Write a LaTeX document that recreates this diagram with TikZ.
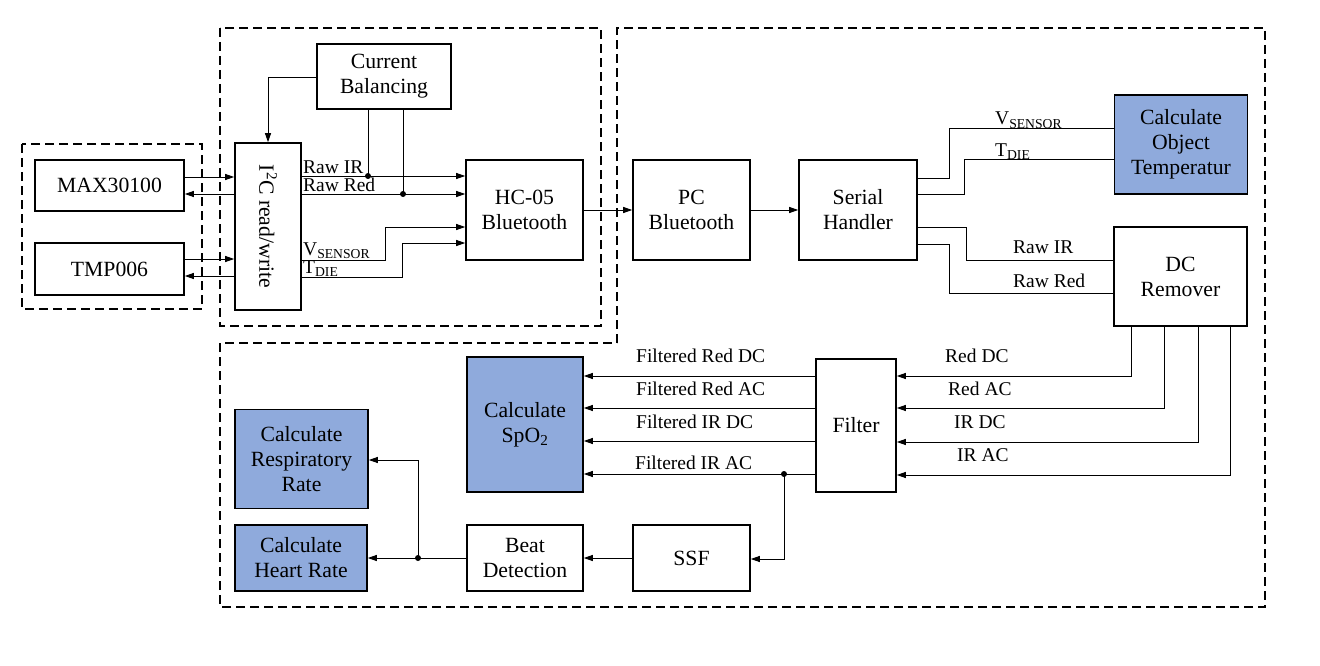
\documentclass[tikz,border=0pt]{standalone}
\usepackage{fontspec}
\setmainfont{Liberation Serif}
\usetikzlibrary{arrows.meta}
\definecolor{calcblue}{RGB}{143,170,220}
\begin{document}
\begin{tikzpicture}[x=1pt,y=-1pt,
 box/.style={draw, line width=1.6pt, align=center, inner sep=0pt, font=\fontsize{21.7}{25}\selectfont},
 calc/.style={box, fill=calcblue},
 conn/.style={line width=0.9pt},
 arr/.style={conn, -{Triangle[length=9pt,width=6pt]}},
 lbl/.style={font=\fontsize{19.5}{22}\selectfont, inner sep=0pt},
 dot/.style={circle, fill, inner sep=0pt, minimum size=6pt},
 frame/.style={line width=2pt, dash pattern=on 9pt off 5pt}]
\useasboundingbox (0,0) rectangle (1320,666);

% dashed frames
\draw[frame] (22,144) rectangle (202,309);
\draw[frame] (220,28) rectangle (601,326);
\draw[frame] (617,343) -- (617,28) -- (1265,28) -- (1265,607) -- (220,607) -- (220,343) -- cycle;

% boxes
\node[box, minimum width=149, minimum height=51] (max) at (109.5,185.5) {MAX30100};
\node[box, minimum width=149, minimum height=52] (tmp) at (109.5,269) {TMP006};
\node[box, minimum width=66, minimum height=167] (i2c) at (268,226.5) {};
\node[rotate=-90, font=\fontsize{21.7}{25}\selectfont, inner sep=0pt] (i2ct) at (i2c.center) {I\textsuperscript{2}C read/write};
\node[box, minimum width=134, minimum height=65] (cb) at (384,76.5) {Current\\Balancing};
\node[box, minimum width=117, minimum height=100] (hc) at (524.5,210) {HC-05\\Bluetooth};
\node[box, minimum width=117, minimum height=100] (pcb) at (691.5,210) {PC\\Bluetooth};
\node[box, minimum width=118, minimum height=100] (sh) at (858,210) {Serial\\Handler};
\node[calc, minimum width=133, minimum height=99] (cot) at (1181,144.5) {Calculate\\Object\\Temperatur};
\node[box, minimum width=133, minimum height=99] (dcr) at (1180.5,276.5) {DC\\Remover};
\node[box, minimum width=80, minimum height=133] (flt) at (856,425.5) {Filter};
\node[calc, minimum width=116, minimum height=135] (spo) at (525,424.5) {Calculate\\SpO\textsubscript{2}};
\node[calc, minimum width=133, minimum height=99] (resp) at (301.5,459) {Calculate\\Respiratory\\Rate};
\node[calc, minimum width=132, minimum height=66] (hr) at (301,558) {Calculate\\Heart Rate};
\node[box, minimum width=116, minimum height=66] (beat) at (525,558) {Beat\\Detection};
\node[box, minimum width=117, minimum height=66] (ssf) at (691.5,558) {SSF};

% sensors <-> I2C
\draw[arr] (max.east |- 0,177) -- (i2c.west |- 0,177);
\draw[arr] (i2c.west |- 0,194) -- (max.east |- 0,194);
\draw[arr] (tmp.east |- 0,259) -- (i2c.west |- 0,259);
\draw[arr] (i2c.west |- 0,276) -- (tmp.east |- 0,276);

% current balancing
\draw[arr] (cb.west |- 0,77) -| (i2c.north);
\draw[conn] (cb.south -| 368,0) -- (368,176) node[dot] (d1) {};
\draw[conn] (cb.south -| 403,0) -- (403,194) node[dot] (d2) {};

% I2C -> HC-05
\draw[arr] (i2c.east |- 0,176) -- (hc.west |- 0,176);
\draw[arr] (i2c.east |- 0,194) -- (hc.west |- 0,194);
\draw[arr] (i2c.east |- 0,260) -- (385,260) -- (385,227) -- (hc.west |- 0,227);
\draw[arr] (i2c.east |- 0,277) -- (402,277) -- (402,243) -- (hc.west |- 0,243);
\node[lbl, anchor=base west] (l1) at (303,173.5) {Raw IR};
\node[lbl, anchor=base west] (l2) at (303,191.5) {Raw Red};
\node[lbl, anchor=base west] (l3) at (303,255.5) {V\textsubscript{SENSOR}};
\node[lbl, anchor=base west] (l4) at (303,273) {T\textsubscript{DIE}};

% HC-05 -> PC -> Serial
\draw[arr] (hc.east) -- (pcb.west);
\draw[arr] (pcb.east) -- (sh.west);

% Serial -> Object temperature
\draw[conn] (sh.east |- 0,178) -- (949,178) -- (949,128) -- (cot.west |- 0,128);
\draw[conn] (sh.east |- 0,194) -- (964,194) -- (964,159) -- (cot.west |- 0,159);
\node[lbl, anchor=base west] (l5) at (995,125) {V\textsubscript{SENSOR}};
\node[lbl, anchor=base west] (l6) at (995,156.5) {T\textsubscript{DIE}};

% Serial -> DC remover
\draw[conn] (sh.east |- 0,227) -- (966,227) -- (966,260) -- (dcr.west |- 0,260);
\draw[conn] (sh.east |- 0,244) -- (949,244) -- (949,293) -- (dcr.west |- 0,293);
\node[lbl, anchor=base west] (l7) at (1013,253) {Raw IR};
\node[lbl, anchor=base west] (l8) at (1013,287) {Raw Red};

% DC remover -> Filter
\draw[arr] (dcr.south -| 1131,0) -- (1131,376) -- (flt.east |- 0,376);
\draw[arr] (dcr.south -| 1164,0) -- (1164,408) -- (flt.east |- 0,408);
\draw[arr] (dcr.south -| 1198,0) -- (1198,442) -- (flt.east |- 0,442);
\draw[arr] (dcr.south -| 1230,0) -- (1230,475) -- (flt.east |- 0,475);
\node[lbl, anchor=base west] (l9) at (945,362) {Red DC};
\node[lbl, anchor=base west] (l10) at (948,395) {Red AC};
\node[lbl, anchor=base west] (l11) at (954,428) {IR DC};
\node[lbl, anchor=base west] (l12) at (957,461) {IR AC};

% Filter -> SpO2
\draw[arr] (flt.west |- 0,376) -- (spo.east |- 0,376);
\draw[arr] (flt.west |- 0,408) -- (spo.east |- 0,408);
\draw[arr] (flt.west |- 0,441) -- (spo.east |- 0,441);
\draw[arr] (flt.west |- 0,474) -- (spo.east |- 0,474);
\node[lbl, anchor=base west] (l13) at (636,362) {Filtered Red DC};
\node[lbl, anchor=base west] (l14) at (636,395) {Filtered Red AC};
\node[lbl, anchor=base west] (l15) at (636,428) {Filtered IR DC};
\node[lbl, anchor=base west] (l16) at (635,469) {Filtered IR AC};

% SSF branch
\node[dot] (d3) at (784,474) {};
\draw[arr] (d3.center) -- (784,559) -- (ssf.east |- 0,559);
\draw[arr] (ssf.west) -- (beat.east);
\node[dot] (d4) at (418,558) {};
\draw[arr] (beat.west) -- (hr.east);
\draw[arr] (d4.center) -- (418,460) -- (resp.east |- 0,460);
\end{tikzpicture}
\end{document}
